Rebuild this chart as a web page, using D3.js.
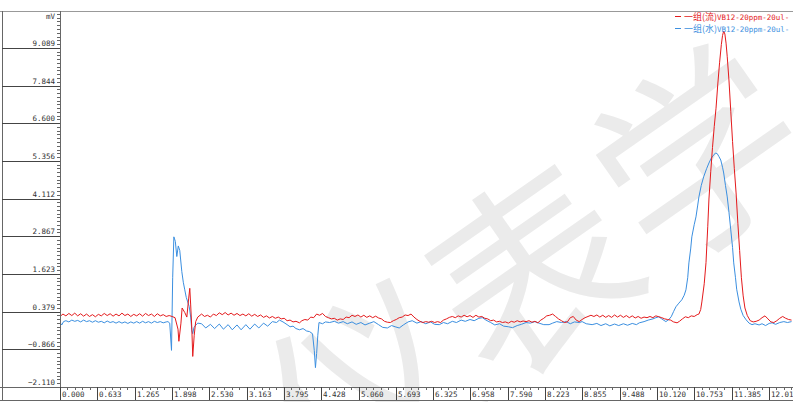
<!DOCTYPE html>
<html>
<head>
<meta charset="utf-8">
<script src="https://cdn.jsdelivr.net/npm/d3@7"></script>
<style>
  body { margin: 0; background: #fff; }
  svg { display: block; }
  .tick-label { font-family: "DejaVu Sans Mono", monospace; font-size: 7.5px; fill: #333; }
  .legend-cjk { font-family: "Noto Sans CJK SC", sans-serif; font-size: 9px; }
  .legend-latin { font-family: "DejaVu Sans Mono", monospace; font-size: 7.5px; }
</style>
</head>
<body>
<svg id="chart"></svg>
<script>
// y axis tick values (mV) and x axis tick values (min)
var yTicks = [9.089, 7.844, 6.600, 5.356, 4.112, 2.867, 1.623, 0.379, -0.866, -2.110];
var xTicks = [0, 0.63252, 1.26504, 1.89756, 2.53008, 3.1626, 3.79512, 4.42764, 5.06016, 5.69268,
              6.3252, 6.95772, 7.59024, 8.22276, 8.85528, 9.4878, 10.12032, 10.75284, 11.38536, 12.01788];

// legend: Chinese prefix + sample name
var legendPrefix = ["一组(流)", "一组(水)"];
var legendSample = ["VB12-20ppm-20ul-", "VB12-20ppm-20ul-"];
var seriesColors = ["#e41a1c", "#3b8fe0"];

// [time min, signal mV]
var redSeries = [
[0.00,0.22],[0.05,0.30],[0.10,0.24],[0.15,0.32],[0.20,0.25],[0.25,0.33],[0.30,0.24],[0.35,0.31],[0.40,0.23],[0.45,0.30],
[0.50,0.22],[0.55,0.28],[0.60,0.21],[0.65,0.29],[0.70,0.24],[0.75,0.32],[0.80,0.25],[0.85,0.31],[0.90,0.23],[0.95,0.30],
[1.00,0.24],[1.05,0.33],[1.10,0.25],[1.15,0.30],[1.20,0.22],[1.25,0.29],[1.30,0.24],[1.35,0.31],[1.40,0.23],[1.45,0.32],
[1.50,0.25],[1.55,0.30],[1.60,0.22],[1.65,0.31],[1.70,0.24],[1.75,0.28],[1.80,0.22],[1.85,0.25],[1.90,0.22],[1.95,0.18],
[2.00,-0.20],[2.015,-0.60],[2.05,0.00],[2.07,0.50],[2.115,0.35],[2.15,0.20],[2.18,0.80],[2.20,1.15],[2.215,0.60],
[2.235,-0.20],[2.25,-1.10],[2.275,-0.40],[2.30,0.05],[2.335,0.20],[2.40,0.30],
[2.45,0.22],[2.50,0.26],[2.55,0.20],[2.60,0.30],[2.65,0.25],[2.70,0.34],[2.75,0.28],[2.80,0.35],[2.85,0.27],[2.90,0.33],
[2.95,0.26],[3.00,0.32],[3.05,0.25],[3.10,0.30],[3.15,0.24],[3.20,0.31],[3.25,0.23],[3.30,0.29],[3.35,0.22],[3.40,0.27],
[3.45,0.19],[3.50,0.24],[3.55,0.17],[3.60,0.22],[3.65,0.16],[3.70,0.20],[3.75,0.14],[3.80,0.16],[3.85,0.08],[3.90,0.10],
[3.95,0.04],[4.00,0.06],[4.06,0.01],[4.10,0.08],[4.15,0.12],[4.20,0.10],[4.25,0.20],[4.30,0.18],[4.35,0.30],[4.40,0.26],
[4.45,0.32],[4.50,0.22],[4.55,0.18],[4.60,0.14],[4.65,0.16],[4.70,0.10],[4.75,0.14],[4.80,0.12],[4.85,0.20],[4.90,0.18],
[4.95,0.26],[5.00,0.22],[5.05,0.27],[5.10,0.20],[5.15,0.26],[5.20,0.19],[5.25,0.24],[5.30,0.18],[5.35,0.23],[5.40,0.17],
[5.45,0.14],[5.50,0.06],[5.55,0.03],[5.60,0.02],[5.65,0.08],[5.70,0.12],[5.75,0.18],[5.80,0.20],[5.85,0.27],[5.90,0.25],
[5.95,0.30],[6.00,0.20],[6.05,0.12],[6.10,0.06],[6.15,0.02],[6.20,0.05],[6.25,0.03],[6.30,0.06],[6.35,0.02],[6.40,0.05],
[6.45,0.02],[6.50,0.10],[6.55,0.14],[6.60,0.19],[6.65,0.22],[6.70,0.18],[6.75,0.24],[6.80,0.20],[6.85,0.26],[6.90,0.21],
[6.95,0.25],[7.00,0.19],[7.05,0.26],[7.10,0.20],[7.15,0.22],[7.20,0.16],[7.25,0.14],[7.30,0.08],[7.35,0.10],[7.40,0.04],
[7.45,0.06],[7.50,0.02],[7.55,0.04],[7.60,0.00],[7.65,0.06],[7.70,0.03],[7.75,0.08],[7.80,0.04],[7.85,0.07],[7.90,0.05],
[7.95,0.08],[8.00,0.03],[8.05,0.06],[8.10,0.01],[8.15,0.10],[8.20,0.16],[8.25,0.24],[8.30,0.26],[8.35,0.30],[8.40,0.22],
[8.45,0.14],[8.50,0.08],[8.55,0.02],[8.60,0.04],[8.65,0.18],[8.70,0.22],[8.75,0.10],[8.80,0.05],[8.85,0.12],[8.90,0.18],
[8.95,0.22],[9.00,0.26],[9.05,0.22],[9.10,0.27],[9.15,0.20],[9.20,0.26],[9.25,0.19],[9.30,0.25],[9.35,0.19],[9.40,0.27],
[9.45,0.20],[9.50,0.26],[9.55,0.19],[9.60,0.25],[9.65,0.18],[9.70,0.24],[9.75,0.17],[9.80,0.22],[9.85,0.16],[9.90,0.20],
[9.95,0.18],[10.00,0.22],[10.05,0.18],[10.10,0.24],[10.15,0.21],[10.20,0.18],[10.25,0.14],[10.30,0.12],[10.35,0.10],
[10.40,0.04],[10.46,0.01],[10.50,0.06],[10.55,0.14],[10.60,0.21],[10.65,0.18],[10.70,0.24],[10.75,0.22],[10.80,0.28],
[10.83,0.30],[10.86,0.45],[10.88,0.70],[10.92,1.30],[10.95,2.00],[10.98,3.20],[11.00,4.10],[11.03,5.00],[11.06,5.80],
[11.09,6.50],[11.12,7.10],[11.15,7.90],[11.18,8.60],[11.21,9.20],[11.23,9.50],[11.25,9.65],[11.27,9.55],[11.29,9.25],
[11.31,8.80],[11.34,8.00],[11.37,7.00],[11.40,6.00],[11.43,5.10],[11.46,4.30],[11.49,3.30],[11.52,2.40],[11.55,1.50],
[11.58,0.90],[11.61,0.50],[11.65,0.25],[11.70,0.08],[11.75,0.04],[11.80,0.06],[11.85,0.10],[11.90,0.18],[11.95,0.24],
[12.00,0.14],[12.05,0.04],[12.10,0.02],[12.15,0.08],[12.20,0.16],[12.25,0.22],[12.30,0.16],[12.35,0.12],[12.40,0.10]
];

var blueSeries = [
[0.00,0.02],[0.03,-0.06],[0.06,0.05],[0.10,0.08],[0.15,0.04],[0.20,0.10],[0.25,0.06],[0.30,0.09],[0.35,0.04],[0.40,0.10],
[0.45,0.05],[0.50,0.08],[0.55,0.03],[0.60,0.08],[0.65,0.03],[0.70,0.06],[0.75,0.01],[0.80,0.07],[0.85,0.02],[0.90,0.05],
[0.95,0.00],[1.00,0.05],[1.05,0.00],[1.10,0.04],[1.15,-0.01],[1.20,0.04],[1.25,0.00],[1.30,0.05],[1.35,0.00],[1.40,0.06],
[1.45,0.01],[1.50,0.05],[1.55,0.00],[1.60,0.06],[1.65,0.02],[1.70,0.05],[1.75,0.01],[1.80,0.04],[1.83,0.05],[1.86,0.00],
[1.89,-0.90],[1.91,1.50],[1.93,2.85],[1.955,2.70],[1.98,2.20],[2.005,2.55],[2.03,2.40],[2.065,1.70],[2.09,1.35],
[2.115,1.10],[2.14,0.85],[2.165,0.70],[2.19,0.55],[2.215,0.20],[2.235,-0.25],[2.25,-0.35],[2.27,-0.15],[2.285,-0.10],
[2.335,0.00],[2.40,-0.02],[2.47,-0.16],[2.55,-0.04],[2.62,-0.18],[2.70,-0.03],[2.77,-0.20],[2.85,-0.05],[2.92,-0.22],
[3.00,-0.06],[3.07,-0.22],[3.15,-0.05],[3.22,-0.20],[3.30,-0.03],[3.37,-0.16],[3.45,0.00],[3.52,-0.10],[3.60,0.05],
[3.67,0.02],[3.72,0.10],[3.78,0.04],[3.85,-0.05],[3.90,-0.12],[3.95,-0.10],[4.00,-0.18],[4.06,-0.22],[4.12,-0.18],
[4.18,-0.26],[4.23,-0.28],[4.28,-0.35],[4.31,-0.90],[4.33,-1.47],[4.35,-1.00],[4.37,-0.40],[4.39,0.02],[4.45,-0.02],
[4.50,0.04],[4.57,0.02],[4.65,0.06],[4.72,0.00],[4.80,0.05],[4.87,-0.02],[4.95,0.04],[5.02,-0.04],[5.10,0.02],
[5.17,-0.06],[5.25,0.00],[5.32,0.05],[5.40,-0.05],[5.47,-0.14],[5.55,-0.16],[5.62,-0.08],[5.68,-0.12],[5.75,-0.16],
[5.82,-0.06],[5.90,0.04],[5.97,0.08],[6.05,0.00],[6.12,0.05],[6.20,-0.02],[6.28,0.04],[6.35,-0.04],[6.43,-0.05],
[6.50,0.02],[6.57,-0.02],[6.65,0.06],[6.72,0.02],[6.80,0.10],[6.87,0.06],[6.95,0.12],[7.02,0.08],[7.10,0.16],
[7.16,0.18],[7.22,0.10],[7.30,0.02],[7.37,-0.06],[7.45,-0.02],[7.52,-0.10],[7.60,-0.12],[7.67,-0.15],[7.75,-0.08],
[7.82,-0.04],[7.90,0.02],[7.97,0.00],[8.05,0.05],[8.12,0.00],[8.20,-0.05],[8.29,-0.05],[8.35,0.00],[8.42,0.05],
[8.50,0.02],[8.58,0.05],[8.65,-0.02],[8.72,0.04],[8.80,0.02],[8.85,0.05],[8.92,-0.02],[9.02,-0.05],[9.10,-0.01],
[9.17,-0.08],[9.25,-0.02],[9.32,-0.09],[9.40,-0.03],[9.47,-0.08],[9.55,-0.02],[9.62,-0.07],[9.70,-0.01],[9.77,-0.05],
[9.82,0.01],[9.90,0.05],[9.97,0.10],[10.05,0.14],[10.10,0.18],[10.15,0.21],[10.20,0.14],[10.27,0.05],[10.32,0.12],
[10.36,0.21],[10.40,0.38],[10.44,0.54],[10.49,0.66],[10.54,0.77],[10.58,0.92],[10.61,1.10],[10.64,1.50],[10.66,1.99],
[10.69,2.45],[10.71,2.85],[10.75,3.25],[10.78,3.51],[10.81,3.90],[10.83,4.17],[10.87,4.55],[10.91,4.83],[10.96,5.10],
[11.00,5.29],[11.04,5.45],[11.08,5.55],[11.11,5.62],[11.14,5.60],[11.17,5.50],[11.20,5.39],[11.23,5.15],[11.25,4.96],
[11.28,4.55],[11.31,4.17],[11.34,3.65],[11.37,3.08],[11.40,2.50],[11.42,1.99],[11.45,1.50],[11.47,1.12],[11.51,0.70],
[11.54,0.46],[11.58,0.25],[11.63,0.11],[11.68,0.00],[11.73,-0.05],[11.78,-0.02],[11.85,-0.06],[11.90,-0.02],
[11.96,-0.08],[12.02,-0.01],[12.07,0.01],[12.13,-0.04],[12.20,0.02],[12.27,0.05],[12.33,0.02],[12.40,0.05]
];

var W = 793, H = 402;
var plotLeft = 60, plotTop = 11, plotBottom = 387, stripBottom = 400;

var svg = d3.select('#chart').attr('width', W).attr('height', H);

var x = d3.scaleLinear().domain([0, xTicks[xTicks.length - 1]]).range([plotLeft, 769]);
var y = d3.scaleLinear().domain([yTicks[yTicks.length - 1], yTicks[0]]).range([plotBottom, 48]);

svg.append('rect').attr('width', W).attr('height', H).style('fill', 'white');

// watermark behind everything
var wm = svg.append('g').attr('class', 'watermark');
var wmChars = [["仪", 360, 380], ["表", 525, 262], ["学", 692, 146]];
wm.selectAll('text')
    .data(wmChars)
    .enter().append('text')
    .attr('transform', d => `translate(${d[1]},${d[2]}) rotate(-35)`)
    .attr('text-anchor', 'middle')
    .attr('dominant-baseline', 'central')
    .style('font-family', '"Noto Sans CJK SC"')
    .style('font-size', '200px')
    .style('fill', '#ebebeb')
    .text(d => d[0]);

// frame
var frame = svg.append('g').attr('stroke', '#666').attr('shape-rendering', 'crispEdges');
frame.append('line').attr('x1', 0).attr('x2', W).attr('y1', plotTop + 0.5).attr('y2', plotTop + 0.5).attr('stroke', '#999');
frame.append('line').attr('x1', 2.5).attr('x2', 2.5).attr('y1', plotTop).attr('y2', stripBottom);
frame.append('line').attr('x1', plotLeft + 0.5).attr('x2', plotLeft + 0.5).attr('y1', plotTop).attr('y2', stripBottom);
frame.append('line').attr('x1', 0).attr('x2', W).attr('y1', plotBottom + 0.5).attr('y2', plotBottom + 0.5);
frame.append('line').attr('x1', 0).attr('x2', W).attr('y1', stripBottom + 0.5).attr('y2', stripBottom + 0.5);

// y axis: panel lines at majors, minor ticks every tenth
var yStep = yTicks[0] - yTicks[1];
var yMinor = [];
for (var v = yTicks[yTicks.length - 1]; y(v) >= plotTop; v += yStep / 10) yMinor.push(v);

var yAxis = svg.append('g').attr('shape-rendering', 'crispEdges');
yAxis.selectAll('.minor')
    .data(yMinor)
    .enter().append('line')
    .attr('x1', plotLeft - 3).attr('x2', plotLeft)
    .attr('y1', d => Math.round(y(d)) + 0.5).attr('y2', d => Math.round(y(d)) + 0.5)
    .attr('stroke', '#666');
yAxis.selectAll('.major')
    .data(yTicks.slice(0, -1))
    .enter().append('line')
    .attr('x1', 2).attr('x2', plotLeft)
    .attr('y1', d => Math.round(y(d)) + 0.5).attr('y2', d => Math.round(y(d)) + 0.5)
    .attr('stroke', '#444');
yAxis.selectAll('text')
    .data(yTicks)
    .enter().append('text')
    .attr('class', 'tick-label')
    .attr('x', 55)
    .attr('y', d => Math.round(y(d)) - 2)
    .attr('text-anchor', 'end')
    .text(d => d3.format('.3f')(d));
yAxis.append('text').attr('class', 'tick-label')
    .attr('x', 55).attr('y', 19).attr('text-anchor', 'end').text('mV');

// x axis strip
var xStep = xTicks[1];
var xMinor = [];
for (var t = 0; x(t) < W; t += xStep / 5) xMinor.push(t);

var xAxis = svg.append('g').attr('shape-rendering', 'crispEdges');
xAxis.selectAll('.minor')
    .data(xMinor)
    .enter().append('line')
    .attr('x1', d => Math.round(x(d)) + 0.5).attr('x2', d => Math.round(x(d)) + 0.5)
    .attr('y1', plotBottom).attr('y2', plotBottom + 3)
    .attr('stroke', '#666');
xAxis.selectAll('.major')
    .data(xTicks)
    .enter().append('line')
    .attr('x1', d => Math.round(x(d)) + 0.5).attr('x2', d => Math.round(x(d)) + 0.5)
    .attr('y1', plotBottom).attr('y2', stripBottom)
    .attr('stroke', '#444');
xAxis.selectAll('text')
    .data(xTicks)
    .enter().append('text')
    .attr('class', 'tick-label')
    .attr('x', d => Math.round(x(d)) + 2)
    .attr('y', 397)
    .text(d => d3.format('.3f')(d));

// series
var line = d3.line().x(d => x(d[0])).y(d => y(d[1]));
svg.append('defs').append('clipPath').attr('id', 'plot-clip')
    .append('rect').attr('x', plotLeft + 1).attr('y', plotTop + 1)
    .attr('width', W - plotLeft - 1).attr('height', plotBottom - plotTop - 1);

var lines = svg.append('g').attr('clip-path', 'url(#plot-clip)');
[blueSeries, redSeries].forEach(function(s, i) {
    lines.append('path')
        .datum(s)
        .attr('d', line)
        .attr('fill', 'none')
        .attr('stroke', seriesColors[1 - i])
        .attr('stroke-width', 1);
});

// legend, top right
var legend = svg.append('g');
legendPrefix.forEach(function(name, i) {
    var ly = 16 + i * 12;
    legend.append('line')
        .attr('x1', 675).attr('x2', 681)
        .attr('y1', ly + 0.5).attr('y2', ly + 0.5)
        .attr('stroke', seriesColors[i]);
    var txt = legend.append('text')
        .attr('x', 684).attr('y', ly + 3.5)
        .style('fill', seriesColors[i]);
    txt.append('tspan').attr('class', 'legend-cjk').text(name);
    txt.append('tspan').attr('class', 'legend-latin').text(legendSample[i]);
});
</script>
</body>
</html>
